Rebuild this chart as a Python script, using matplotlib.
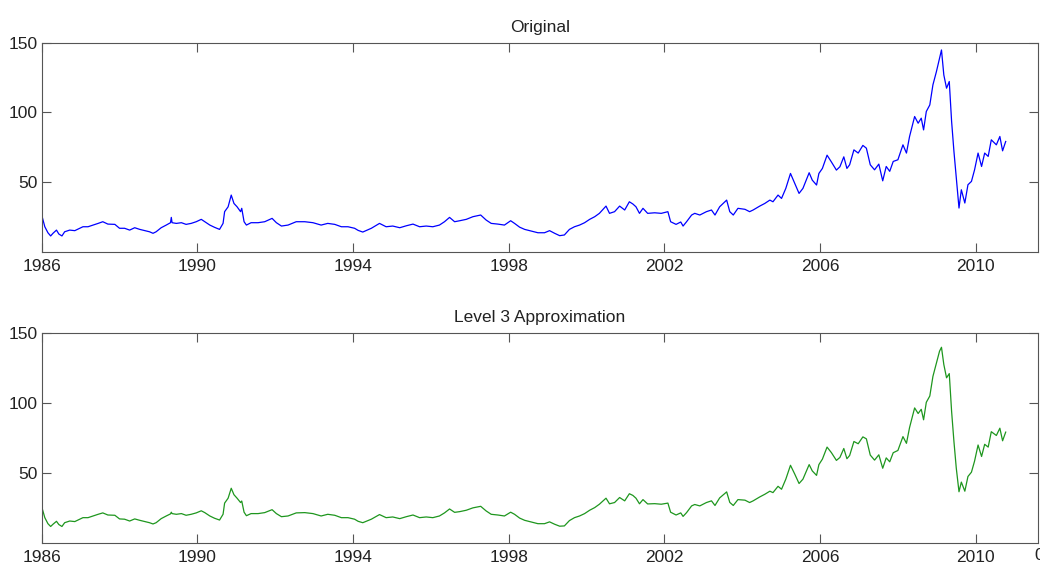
import matplotlib
matplotlib.use("Agg")
import matplotlib.pyplot as plt

# decimal-year sample dates and prices for the original series
dates = [
    1986.00, 1986.08, 1986.16, 1986.23, 1986.29, 1986.38, 1986.44, 1986.52, 1986.59, 1986.72,
    1986.85, 1986.98, 1987.06, 1987.19, 1987.32, 1987.45, 1987.57, 1987.70, 1987.88, 1988.00,
    1988.13, 1988.26, 1988.39, 1988.52, 1988.65, 1988.77, 1988.86, 1988.94, 1989.07, 1989.20,
    1989.31, 1989.33, 1989.35, 1989.46, 1989.59, 1989.71, 1989.84, 1989.97, 1990.10, 1990.19,
    1990.32, 1990.44, 1990.57, 1990.66, 1990.70, 1990.79, 1990.87, 1990.94, 1991.02, 1991.11,
    1991.14, 1991.20, 1991.26, 1991.38, 1991.56, 1991.73, 1991.92, 1992.03, 1992.16, 1992.33,
    1992.54, 1992.76, 1992.97, 1993.18, 1993.35, 1993.53, 1993.70, 1993.87, 1994.04, 1994.13,
    1994.25, 1994.47, 1994.68, 1994.85, 1995.02, 1995.20, 1995.37, 1995.54, 1995.71, 1995.88,
    1996.05, 1996.22, 1996.35, 1996.48, 1996.61, 1996.74, 1996.91, 1997.08, 1997.28, 1997.42,
    1997.55, 1997.72, 1997.89, 1998.05, 1998.15, 1998.28, 1998.41, 1998.58, 1998.75, 1998.92,
    1999.05, 1999.18, 1999.31, 1999.43, 1999.56, 1999.69, 1999.82, 1999.95, 2000.08, 2000.21,
    2000.33, 2000.50, 2000.59, 2000.72, 2000.85, 2000.98, 2001.10, 2001.19, 2001.27, 2001.36,
    2001.45, 2001.57, 2001.75, 2001.92, 2002.09, 2002.16, 2002.30, 2002.42, 2002.48, 2002.57,
    2002.70, 2002.78, 2002.91, 2003.08, 2003.21, 2003.30, 2003.42, 2003.60, 2003.68, 2003.77,
    2003.89, 2004.07, 2004.19, 2004.28, 2004.45, 2004.58, 2004.71, 2004.79, 2004.92, 2005.01,
    2005.12, 2005.24, 2005.35, 2005.46, 2005.56, 2005.72, 2005.80, 2005.91, 2005.97, 2006.06,
    2006.18, 2006.29, 2006.42, 2006.51, 2006.61, 2006.69, 2006.76, 2006.87, 2006.98, 2007.10,
    2007.19, 2007.29, 2007.40, 2007.51, 2007.61, 2007.70, 2007.79, 2007.88, 2008.00, 2008.13,
    2008.22, 2008.30, 2008.43, 2008.52, 2008.60, 2008.66, 2008.73, 2008.82, 2008.90, 2008.99,
    2009.07, 2009.12, 2009.18, 2009.25, 2009.32, 2009.38, 2009.44, 2009.50, 2009.57, 2009.63,
    2009.72, 2009.80, 2009.89, 2009.97, 2010.06, 2010.15, 2010.23, 2010.32, 2010.40, 2010.53,
    2010.62, 2010.69, 2010.77,
]

price = [
    26.5, 18.1, 13.8, 11.5, 13.4, 15.7, 12.9, 11.5, 14.5, 15.7,
    15.3, 17.0, 18.1, 18.1, 19.3, 20.5, 21.7, 20.0, 19.8, 17.0,
    17.0, 15.7, 17.4, 16.2, 15.3, 14.5, 13.4, 14.5, 17.4, 19.3,
    21.0, 24.8, 21.0, 20.5, 21.0, 19.8, 20.5, 21.7, 23.4, 21.7,
    19.3, 17.7, 16.2, 20.5, 28.9, 32.4, 40.8, 34.8, 32.4, 28.9,
    31.3, 21.7, 19.3, 21.0, 21.0, 21.7, 24.1, 21.0, 18.6, 19.3,
    21.7, 21.7, 21.0, 19.3, 20.5, 19.8, 18.1, 18.1, 17.0, 15.5,
    14.3, 17.0, 20.5, 18.1, 18.6, 17.4, 18.8, 20.0, 18.1, 18.6,
    18.1, 19.3, 21.7, 24.8, 21.7, 22.4, 23.4, 25.3, 26.5, 22.9,
    20.5, 20.0, 19.3, 22.4, 20.5, 17.8, 16.2, 15.0, 13.8, 13.8,
    15.3, 13.4, 11.7, 12.2, 16.2, 18.1, 19.3, 21.0, 23.4, 25.3,
    27.7, 32.9, 27.7, 28.9, 32.9, 30.1, 36.0, 34.4, 32.4, 27.7,
    31.3, 27.7, 28.1, 27.7, 28.9, 21.7, 19.8, 21.5, 18.6, 21.7,
    26.5, 27.7, 26.5, 28.9, 30.1, 26.5, 32.4, 37.2, 28.9, 26.5,
    31.3, 30.6, 28.9, 30.1, 32.9, 34.8, 37.2, 36.0, 40.8, 38.4,
    45.6, 56.3, 49.2, 42.0, 45.6, 56.8, 51.5, 48.0, 56.3, 59.9,
    69.4, 64.6, 58.7, 61.1, 68.2, 59.9, 62.5, 73.2, 70.9, 76.4,
    74.4, 62.5, 58.9, 63.0, 51.0, 61.3, 57.8, 64.9, 66.1, 76.8,
    70.9, 82.8, 97.1, 92.3, 95.9, 87.5, 100.7, 105.4, 119.8, 129.3,
    138.9, 144.8, 126.9, 117.4, 122.2, 93.6, 72.1, 53.0, 31.5, 44.6,
    35.1, 48.2, 50.6, 58.9, 70.9, 61.3, 70.9, 68.5, 80.4, 76.8,
    82.8, 72.5, 79.2,
]

# level 3 approximation: same samples with the sharpest spikes damped
approx = [
    25.9, 18.1, 13.8, 11.8, 13.4, 15.5, 13.2, 11.8, 14.5, 15.7,
    15.3, 17.0, 18.1, 18.1, 19.3, 20.5, 21.5, 20.0, 19.8, 17.2,
    17.0, 15.7, 17.2, 16.2, 15.3, 14.5, 13.6, 14.5, 17.4, 19.3,
    20.8, 22.0, 21.0, 20.5, 21.0, 19.8, 20.5, 21.5, 23.0, 21.7,
    19.3, 17.7, 16.4, 20.5, 28.5, 32.0, 39.1, 34.5, 32.0, 28.9,
    30.0, 22.0, 19.5, 21.0, 21.0, 21.7, 23.8, 21.0, 18.8, 19.3,
    21.5, 21.7, 21.0, 19.3, 20.5, 19.8, 18.1, 18.1, 17.0, 15.5,
    14.5, 17.0, 20.3, 18.1, 18.6, 17.4, 18.8, 20.0, 18.1, 18.6,
    18.1, 19.3, 21.5, 24.3, 21.9, 22.4, 23.4, 25.1, 26.2, 22.9,
    20.5, 20.0, 19.3, 22.0, 20.5, 17.8, 16.2, 15.0, 13.8, 13.8,
    15.1, 13.4, 12.0, 12.2, 16.0, 18.1, 19.3, 21.0, 23.4, 25.3,
    27.7, 32.0, 28.0, 28.9, 32.5, 30.1, 35.2, 34.0, 32.0, 28.0,
    31.0, 27.9, 28.1, 27.7, 28.5, 22.0, 20.0, 21.5, 19.0, 21.7,
    26.5, 27.5, 26.5, 28.9, 30.1, 26.8, 32.2, 36.5, 29.0, 26.8,
    31.0, 30.6, 28.9, 30.1, 32.9, 34.8, 37.0, 36.0, 40.5, 38.4,
    45.6, 55.5, 49.2, 42.5, 45.6, 56.0, 51.5, 48.3, 56.0, 59.9,
    68.5, 64.6, 59.0, 61.1, 67.5, 60.2, 62.5, 72.5, 70.9, 75.8,
    74.4, 62.8, 59.2, 63.0, 53.4, 60.8, 58.0, 64.5, 66.1, 76.0,
    71.2, 82.5, 96.5, 92.5, 95.5, 88.0, 100.5, 105.0, 119.0, 128.5,
    137.0, 139.8, 127.5, 118.0, 121.0, 94.0, 72.5, 53.5, 36.6, 43.5,
    37.0, 47.5, 50.6, 58.5, 70.0, 61.8, 70.5, 68.5, 79.5, 76.8,
    82.0, 73.0, 79.2,
]

year_ticks = [1986, 1990, 1994, 1998, 2002, 2006, 2010]
value_ticks = [50, 100, 150]

plt.rcParams["font.family"] = ["Liberation Sans", "DejaVu Sans"]
plt.rcParams["font.size"] = 12.5

fig = plt.figure(figsize=(10.4, 5.63), dpi=100)
fig.patch.set_facecolor("white")

W, H = 1040.0, 563.0
ax_top = fig.add_axes([41.7 / W, (H - 252.0) / H, (1038.0 - 41.7) / W, 209.3 / H])
ax_bot = fig.add_axes([41.7 / W, (H - 543.0) / H, (1038.0 - 41.7) / W, 210.0 / H])

ax_top.plot(dates, price, color="#0000ff", linewidth=0.9)
ax_bot.plot(dates, approx, color="#1e961e", linewidth=0.9)

for ax, title in [(ax_top, "Original"), (ax_bot, "Level 3 Approximation")]:
    ax.set_xlim(1986.0, 2011.6)
    ax.set_ylim(0, 150)
    ax.set_xticks(year_ticks)
    ax.set_xticklabels([str(y) for y in year_ticks])
    ax.set_yticks(value_ticks)
    ax.set_title(title, fontsize=12.5, color="#222222", pad=8)
    ax.tick_params(direction="in", length=6.5, width=0.8, color="#555555",
                   labelcolor="#222222", top=True, right=True)
    ax.tick_params(axis="x", pad=5)
    ax.tick_params(axis="y", pad=3)
    for sp in ax.spines.values():
        sp.set_color("#555555")
        sp.set_linewidth(0.8)

# stray tick label at the right edge of the lower axis, mostly cut off
fig.text(1034.0 / W, (H - 548.0) / H, "0", ha="left", va="top",
         fontsize=12.5, color="#222222")

fig.savefig("out.png", dpi=100, facecolor="white")
